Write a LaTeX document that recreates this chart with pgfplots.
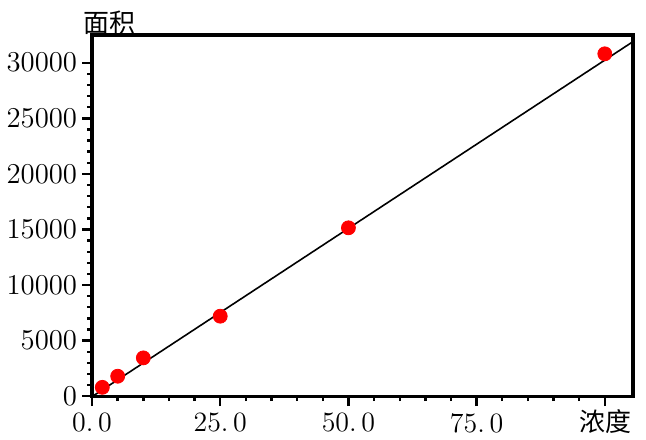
\documentclass[border=0pt]{standalone}
\usepackage{fontspec}
\usepackage{pgfplots}
\pgfplotsset{compat=1.18}
\newfontfamily\cjk{Noto Sans CJK SC}
\begin{document}
\begin{tikzpicture}
\begin{axis}[
  scale only axis,
  width=271pt, height=181pt,
  xmin=0, xmax=105.5,
  ymin=0, ymax=32500,
  xtick={0,25,50,75,100},
  xticklabels={0.\,0,25.\,0,50.\,0,75.\,0,{}},
  ytick={0,5000,10000,15000,20000,25000,30000},
  minor x tick num=4,
  minor y tick num=4,
  scaled ticks=false,
  /pgf/number format/set thousands separator={},
  tick pos=left,
  tick align=outside,
  major tick length=5pt,
  minor tick length=2.5pt,
  axis line style={line width=1.6pt},
  tick style={line width=1.2pt, black},
  ticklabel style={font=\fontsize{14}{16}\selectfont},
  yticklabel style={xshift=1pt},
  clip mode=individual,
]
\addplot[black, line width=0.8pt] coordinates {(0,-35) (105.5,31900)};
\addplot[only marks, mark=*, mark size=3.5pt, color=red, mark options={fill=red, draw=red}] coordinates {
  (2,800) (5,1800) (10,3450) (25,7200) (50,15150) (100,30800)
};
\node[anchor=south west, inner sep=0pt, font=\cjk\fontsize{13}{15}\selectfont] at ([xshift=-4.5pt]rel axis cs:0,1) {面积};
\node[anchor=north east, inner sep=0pt, font=\cjk\fontsize{13}{15}\selectfont] at ([xshift=-0.5pt,yshift=-6.5pt]rel axis cs:1,0) {浓度};
\path ([xshift=-45.5pt,yshift=-21pt]rel axis cs:0,0) rectangle ([xshift=6.5pt,yshift=17.5pt]rel axis cs:1,1);
\end{axis}
\end{tikzpicture}
\end{document}
